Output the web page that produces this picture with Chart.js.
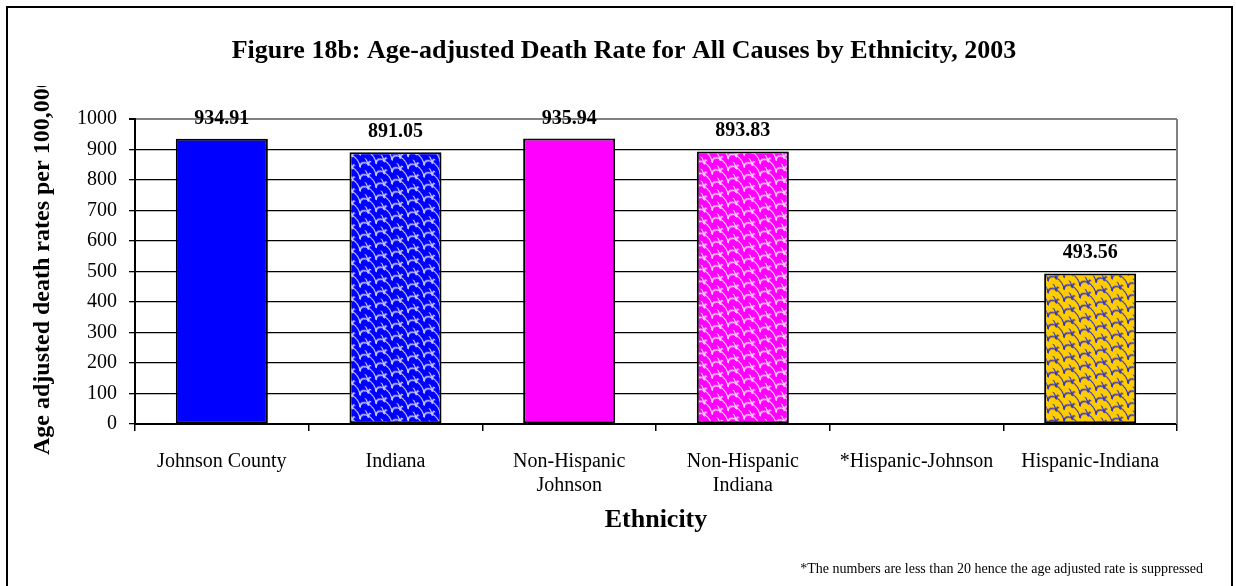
<!DOCTYPE html>
<html><head><meta charset="utf-8">
<script src="https://cdn.jsdelivr.net/npm/chart.js@4/dist/chart.umd.min.js"></script>
<style>html,body{margin:0;padding:0;background:#fff}#wrap{width:1236px;height:586px;position:relative}</style>
</head><body><div id="wrap"><canvas id="c"></canvas></div>
<script>
// ---- data ----
const categories = ['Johnson County', 'Indiana', ['Non-Hispanic', 'Johnson'], ['Non-Hispanic', 'Indiana'], '*Hispanic-Johnson', 'Hispanic-Indiana'];
const rates = [934.91, 891.05, 935.94, 893.83, null, 493.56];
const yMin = 0, yMax = 1000, yStep = 100;
const chartTitle = 'Figure 18b: Age-adjusted Death Rate for All Causes by Ethnicity, 2003';
const yTitle = 'Age adjusted death rates per 100,000';
const xTitle = 'Ethnicity';
const footnote = '*The numbers are less than 20 hence the age adjusted rate is suppressed';

// ---- styles ----
const FONT = "'Liberation Serif', 'Times New Roman', serif";
function makePattern(bg, line) {
  const t = document.createElement('canvas');
  t.width = 16; t.height = 12;
  const g = t.getContext('2d');
  g.fillStyle = bg; g.fillRect(0, 0, 16, 12);
  g.strokeStyle = line; g.lineWidth = 1.4;
  g.beginPath(); g.arc(8, 6, 8, Math.PI, 2 * Math.PI); g.stroke();
  g.beginPath(); g.arc(0, 12, 8, Math.PI * 1.5, 2 * Math.PI); g.stroke();
  g.beginPath(); g.arc(16, 12, 8, Math.PI, Math.PI * 1.5); g.stroke();
  const p = g.createPattern(t, 'repeat');
  if (p.setTransform && window.DOMMatrix) p.setTransform(new DOMMatrix().skewY(28));
  return p;
}
const fills = [
  '#0000FF',
  makePattern('#0000FF', '#C8C8FF'),
  '#FF00FF',
  makePattern('#FF00FF', '#FFD0FF'),
  '#FFFFFF',
  makePattern('#FFCC00', '#3535C8')
];

const decor = {
  id: 'decor',
  afterDraw(chart) {
    const ctx = chart.ctx, a = chart.chartArea;
    ctx.save();
    // right gray border of plot
    ctx.strokeStyle = '#808080'; ctx.lineWidth = 2;
    ctx.beginPath(); ctx.moveTo(a.right, a.top); ctx.lineTo(a.right, a.bottom); ctx.stroke();
    // value labels
    ctx.fillStyle = '#000';
    ctx.font = 'bold 20px ' + FONT;
    ctx.textAlign = 'center'; ctx.textBaseline = 'alphabetic';
    const meta = chart.getDatasetMeta(0);
    meta.data.forEach((el, i) => {
      const v = rates[i];
      if (v === null || v === undefined) return;
      ctx.fillText(v.toFixed(2), el.x, el.y - 15);
    });
    // title
    ctx.font = 'bold 26px ' + FONT;
    ctx.fillText(chartTitle, 624, 58);
    // x title
    ctx.textBaseline = 'middle';
    ctx.fillText(xTitle, (a.left + a.right) / 2, 520);
    // footnote
    ctx.font = '14px ' + FONT;
    ctx.textAlign = 'right';
    ctx.fillText(footnote, 1203, 569);
    // y title (clipped at top like the original)
    ctx.save();
    ctx.beginPath(); ctx.rect(0, 86, 130, 500); ctx.clip();
    ctx.translate(43, 455);
    ctx.rotate(-Math.PI / 2);
    ctx.font = 'bold 24px ' + FONT;
    ctx.textAlign = 'left'; ctx.textBaseline = 'middle';
    ctx.fillText(yTitle, 0, 0);
    ctx.restore();
    // outer border
    ctx.strokeStyle = '#000'; ctx.lineWidth = 2;
    ctx.strokeRect(7, 7, 1225, 600);
    ctx.restore();
  }
};

new Chart(document.getElementById('c'), {
  type: 'bar',
  data: {
    labels: categories,
    datasets: [{
      data: rates,
      backgroundColor: fills,
      borderColor: '#000',
      borderWidth: 2,
      borderSkipped: false,
      barPercentage: 0.53,
      categoryPercentage: 1
    }]
  },
  options: {
    responsive: true,
    maintainAspectRatio: false,
    animation: false,
    devicePixelRatio: 1,
    layout: { padding: { top: 119, right: 59, left: 0, bottom: 0 } },
    plugins: { legend: { display: false }, tooltip: { enabled: false }, title: { display: false } },
    scales: {
      x: {
        offset: true,
        grid: { display: true, drawOnChartArea: false, offset: true, tickLength: 7, color: '#000', lineWidth: 1.5 },
        border: { color: '#000', width: 2 },
        ticks: { color: '#000', font: { family: FONT, size: 20, lineHeight: 1.2 }, padding: 19, maxRotation: 0, autoSkip: false },
        afterFit(s) { s.height = 162; }
      },
      y: {
        min: yMin, max: yMax,
        grid: {
          color: (c) => (c.tick && c.tick.value === yMax) ? '#808080' : '#000',
          lineWidth: (c) => (c.tick && c.tick.value === yMax) ? 2 : 1.3,
          tickColor: '#000', tickLength: 6
        },
        border: { color: '#000', width: 2 },
        ticks: { stepSize: yStep, color: '#000', font: { family: FONT, size: 20 }, padding: 12, callback: (v) => String(v) },
        afterFit(s) { s.width = 135; }
      }
    }
  },
  plugins: [decor]
});
</script>
</body></html>
